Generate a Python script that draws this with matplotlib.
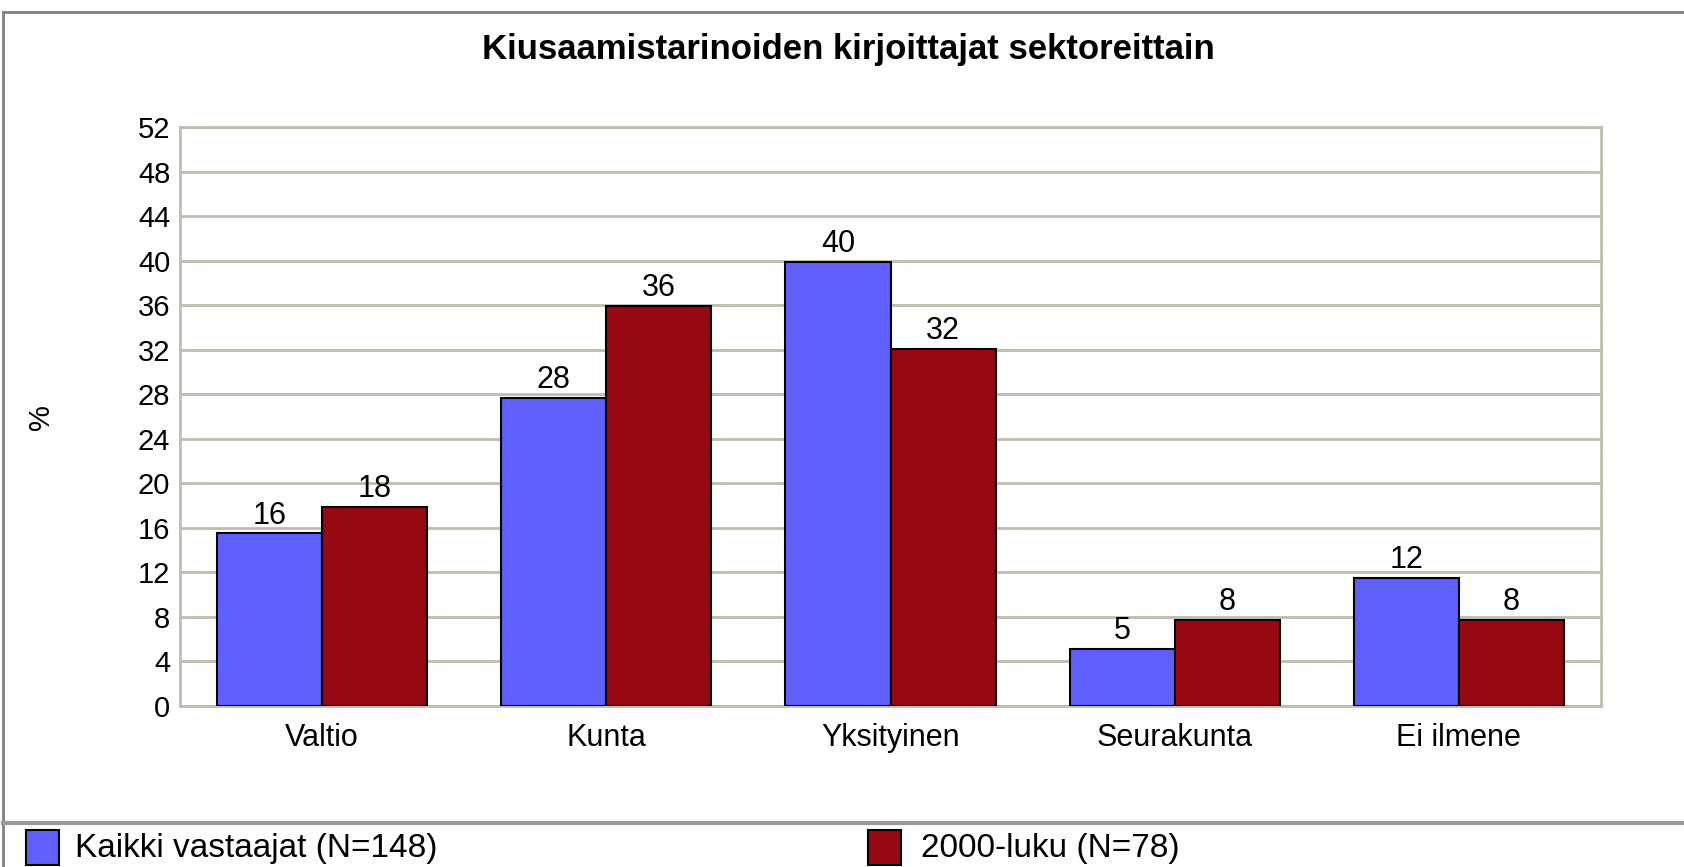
import matplotlib
matplotlib.use("Agg")
import matplotlib.pyplot as plt
import numpy as np
from matplotlib.lines import Line2D
from matplotlib.patches import Rectangle

# Data
categories = ["Valtio", "Kunta", "Yksityinen", "Seurakunta", "Ei ilmene"]
kaikki = [15.5, 27.7, 39.9, 5.1, 11.5]
luku2000 = [17.9, 35.9, 32.1, 7.7, 7.7]
series_names = ["Kaikki vastaajat (N=148)", "2000-luku (N=78)"]
yticks = np.arange(0, 53, 4)

plt.rcParams['font.family'] = ['Liberation Sans', 'DejaVu Sans']

W, H = 1684, 867
fig = plt.figure(figsize=(W / 100, H / 100), dpi=100)

blue = '#6060ff'
red = '#960812'
grid_col = '#c0bcae'

# plot area in pixels
x0, x1, ytop, ybot = 180, 1601, 127, 706
ax = fig.add_axes([x0 / W, (H - ybot) / H, (x1 - x0) / W, (ybot - ytop) / H])

x = np.arange(len(categories))
w = 0.37
b1 = ax.bar(x - w / 2, kaikki, w, color=blue, edgecolor='black', linewidth=1.5, zorder=3)
b2 = ax.bar(x + w / 2, luku2000, w, color=red, edgecolor='black', linewidth=1.5, zorder=3)

for bars, vals in ((b1, kaikki), (b2, luku2000)):
    for rect, v in zip(bars, vals):
        ax.annotate(f"{round(v):.0f}", (rect.get_x() + rect.get_width() / 2, v),
                    xytext=(0, 2), textcoords='offset points',
                    ha='center', va='bottom', fontsize=22, zorder=4)

ax.set_xlim(-0.5, len(categories) - 0.5)
ax.set_ylim(0, 52)
ax.set_yticks(yticks)
ax.set_xticks(x)
ax.set_xticklabels(categories, fontsize=22)
ax.tick_params(axis='y', length=0, labelsize=21, pad=7)
ax.tick_params(axis='x', length=0, pad=12)
ax.grid(axis='y', color=grid_col, linewidth=2, zorder=0)
for s in ax.spines.values():
    s.set_color(grid_col)
    s.set_linewidth(2)

fig.text(41 / W, 1 - 417 / H, '%', rotation=90, fontsize=21, ha='center', va='center')
fig.text(848 / W, 1 - 50 / H, 'Kiusaamistarinoiden kirjoittajat sektoreittain',
         fontsize=25, fontweight='bold', ha='center', va='center')

# outer frame and legend separator
fig.add_artist(Line2D([3 / W, 3 / W], [0, 1 - 12 / H], color='#808080', linewidth=2))
fig.add_artist(Line2D([3 / W, 1], [1 - 12 / H, 1 - 12 / H], color='#808080', linewidth=2))
fig.add_artist(Line2D([3 / W, 1], [1 - 823 / H, 1 - 823 / H], color='#9a9a9a', linewidth=3))

# legend
for (px, tx), col, name in zip(((26, 75), (868, 921)), (blue, red), series_names):
    fig.add_artist(Rectangle((px / W, 1 - 865 / H), 33 / W, 35 / H,
                             facecolor=col, edgecolor='black', linewidth=1.5))
    fig.text(tx / W, 1 - 849 / H, name, fontsize=24, ha='left', va='center')

fig.savefig('out.png', dpi=100)
